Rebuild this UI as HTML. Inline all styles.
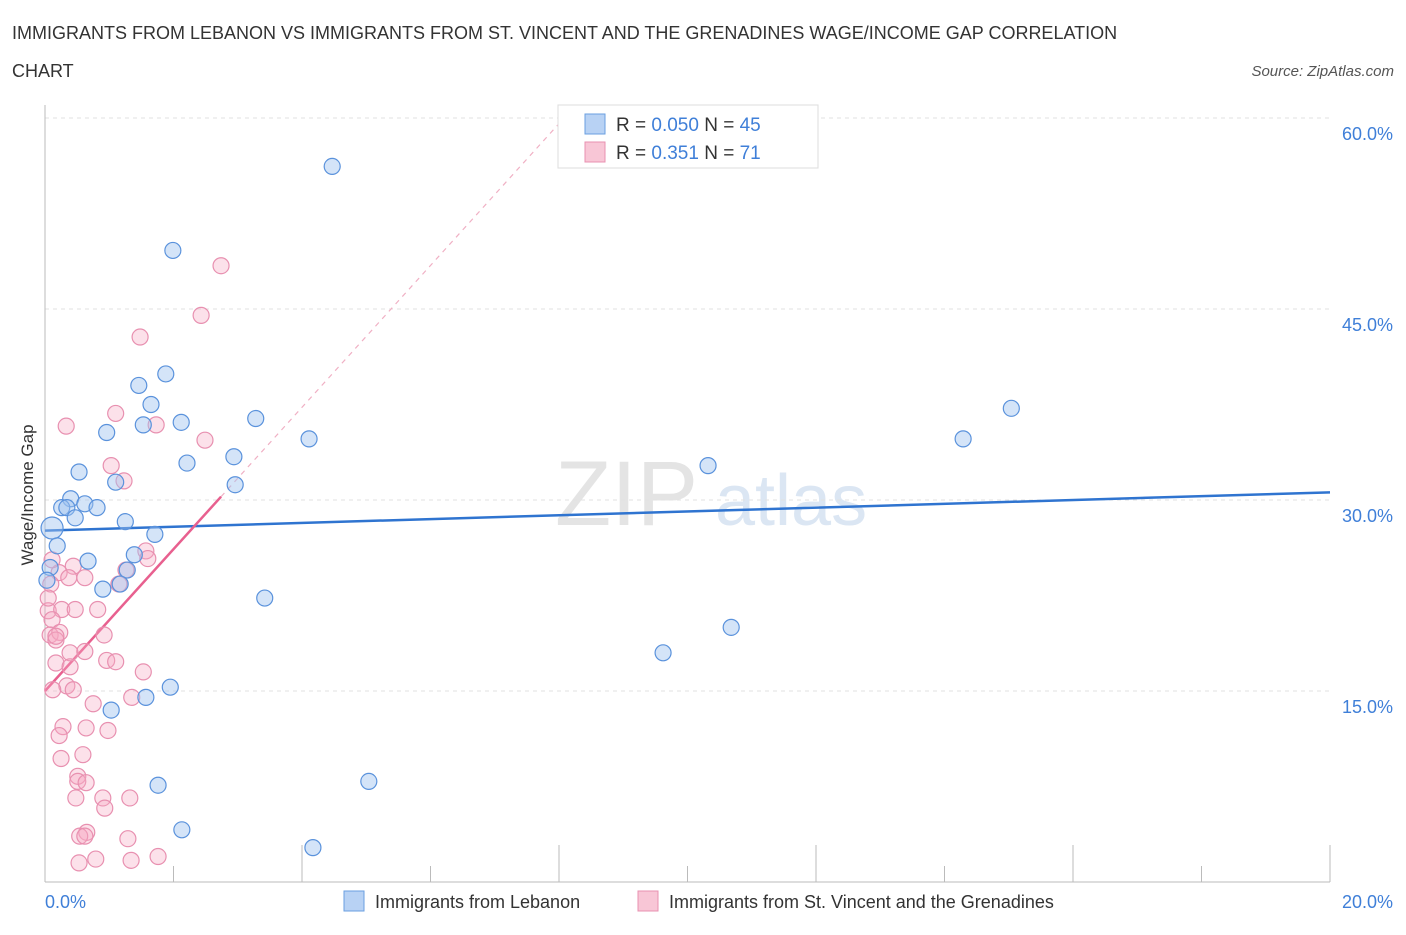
<!DOCTYPE html>
<html><head><meta charset="utf-8"><style>
body{margin:0;background:#fff;font-family:"Liberation Sans",sans-serif;}
svg text{font-family:"Liberation Sans",sans-serif;}
</style></head><body>
<svg id="chart" width="1406" height="930" viewBox="0 0 1406 930" xmlns="http://www.w3.org/2000/svg">
<text x="12" y="39" font-size="18" fill="#333">IMMIGRANTS FROM LEBANON VS IMMIGRANTS FROM ST. VINCENT AND THE GRENADINES WAGE/INCOME GAP CORRELATION</text>
<text x="12" y="77" font-size="18" fill="#333">CHART</text>
<text x="1394" y="76" font-size="15" fill="#555" text-anchor="end" font-style="italic">Source: ZipAtlas.com</text>
<text x="555" y="525" font-size="92" fill="#e4e4e4" font-family="Liberation Serif">ZIP</text>
<text x="715" y="525" font-size="72" fill="#dbe6f3">atlas</text>
<g id="grid"></g>
<g id="axes"></g>
<g id="lines"></g>
<g id="points"></g>
<text transform="translate(33,495) rotate(-90)" font-size="17" fill="#333" text-anchor="middle">Wage/Income Gap</text>
<text x="45" y="908" font-size="18" fill="#3f7fd8">0.0%</text>
<text x="1393" y="908" font-size="18" fill="#3f7fd8" text-anchor="end">20.0%</text>
<g>
<rect x="558" y="105" width="260" height="63" fill="#fff" stroke="#ddd"/>
<rect x="585" y="114" width="20" height="20" fill="#b8d2f4" stroke="#6a9fe0"/>
<rect x="585" y="142" width="20" height="20" fill="#f8c6d6" stroke="#e890b0"/>
<text x="616" y="131" font-size="19" fill="#333">R = <tspan fill="#3f7fd8">0.050</tspan>   N = <tspan fill="#3f7fd8">45</tspan></text>
<text x="616" y="159" font-size="19" fill="#333">R =  <tspan fill="#3f7fd8">0.351</tspan>   N =  <tspan fill="#3f7fd8">71</tspan></text>
</g>
<g>
<rect x="344" y="891" width="20" height="20" fill="#b8d2f4" stroke="#6a9fe0"/>
<text x="375" y="908" font-size="18" fill="#333">Immigrants from Lebanon</text>
<rect x="638" y="891" width="20" height="20" fill="#f8c6d6" stroke="#e890b0"/>
<text x="669" y="908" font-size="18" fill="#333">Immigrants from St. Vincent and the Grenadines</text>
</g>
</svg>
<script>
const yTicks=[15,30,45,60];
const yTickLabels=["15.0%","30.0%","45.0%","60.0%"];
const xTicks=[0,2,4,6,8,10,12,14,16,18,20];
const blueX=[4.47,1.99,1.88,1.46,1.65,3.28,2.12,1.53,0.96,4.11,2.21,2.94,0.53,1.10,2.96,0.40,0.26,0.62,0.81,0.34,0.47,1.25,1.71,0.11,0.19,1.39,0.67,1.28,1.17,0.90,3.42,0.08,0.03,1.95,1.57,1.03,1.76,5.04,2.13,4.17,10.32,9.62,10.68,14.29,15.04];
const blueY=[56.2,49.6,39.9,39.0,37.5,36.4,36.1,35.9,35.3,34.8,32.9,33.4,32.2,31.4,31.2,30.1,29.4,29.7,29.4,29.4,28.6,28.3,27.3,27.8,26.4,25.7,25.2,24.5,23.4,23.0,22.3,24.7,23.7,15.3,14.5,13.5,7.6,7.9,4.1,2.7,32.7,18.0,20.0,34.8,37.2];
const pinkX=[2.74,2.43,1.48,1.10,0.33,1.73,2.49,1.03,1.23,1.57,1.60,1.26,0.44,0.62,0.22,0.37,1.15,0.09,0.05,0.26,0.47,0.82,0.11,0.08,0.23,0.17,0.92,0.39,0.17,0.39,0.96,1.10,1.53,0.34,0.44,0.12,0.75,1.35,0.28,0.64,0.98,0.22,0.59,0.25,0.51,0.51,0.64,0.48,0.90,1.32,0.93,0.65,0.54,0.62,1.29,1.34,1.76,0.53,0.79,0.11,0.05,0.17,0.62];
const pinkY=[48.4,44.5,42.8,36.8,35.8,35.9,34.7,32.7,31.5,26.0,25.4,24.5,24.8,23.9,24.3,23.9,23.4,23.4,21.3,21.4,21.4,21.4,20.6,19.4,19.6,19.0,19.4,18.0,17.2,16.9,17.4,17.3,16.5,15.4,15.1,15.1,14.0,14.5,12.2,12.1,11.9,11.5,10.0,9.7,8.3,7.9,7.8,6.6,6.6,6.6,5.8,3.9,3.6,3.6,3.4,1.7,2.0,1.5,1.8,25.3,22.3,19.3,18.1];
const blueTrend=[27.6,30.6];
const pinkTrend=[15.0,5.57];
const NS="http://www.w3.org/2000/svg";
const X0=45,X1=1330,Y0=882,PXY=12.733;
const xs=v=>X0+(X1-X0)*v/20, ys=v=>Y0-v*PXY;
function mk(tag,attrs,parent){const e=document.createElementNS(NS,tag);for(const k in attrs)e.setAttribute(k,attrs[k]);document.getElementById(parent).appendChild(e);return e;}
yTicks.forEach((t,i)=>{
 const g=mk('line',{x1:X0,x2:X1,y1:ys(t),y2:ys(t),stroke:'#e2e2e2','stroke-dasharray':'4,4'},'grid');
 
 
 const l=mk('text',{x:1393,y:ys(t)+22,'font-size':18,fill:'#3f7fd8','text-anchor':'end'},'grid');
 l.textContent=yTickLabels[i];
 
 
});
const ax=mk('line',{x1:X0,x2:X0,y1:105,y2:Y0,stroke:'#bbb'},'axes');


const bx=mk('line',{x1:X0,x2:X1,y1:Y0,y2:Y0,stroke:'#bbb'},'axes');


xTicks.forEach(t=>{
 const k=mk('line',{x1:xs(t),x2:xs(t),y1:Y0,y2:t%4===0?845:866,stroke:'#bbb'},'axes');
 
 
});
const bl=mk('line',{x1:xs(0),y1:ys(blueTrend[0]),x2:xs(20),y2:ys(blueTrend[1]),stroke:'#2f74d0','stroke-width':2.5},'lines');


const pMax=Math.max(...pinkX);
const pd=mk('line',{x1:xs(pMax),y1:ys(pinkTrend[0]+pinkTrend[1]*pMax),x2:xs(8),y2:ys(pinkTrend[0]+pinkTrend[1]*8),stroke:'#f0b0c4','stroke-width':1.2,'stroke-dasharray':'5,5'},'lines');


const pl=mk('line',{x1:xs(0),y1:ys(pinkTrend[0]),x2:xs(pMax),y2:ys(pinkTrend[0]+pinkTrend[1]*pMax),stroke:'#e8608f','stroke-width':2.5},'lines');


pinkX.forEach((x,i)=>{
 const c=mk('circle',{cx:xs(x),cy:ys(pinkY[i]),r:8,fill:'rgba(245,170,195,0.35)',stroke:'#e890b0','stroke-width':1.2},'points');
 
 
});
blueX.forEach((x,i)=>{
 const c=mk('circle',{cx:xs(x),cy:ys(blueY[i]),r:i===23?11:8,fill:'rgba(160,196,240,0.45)',stroke:'#5a92dc','stroke-width':1.2},'points');
 
 
});
</script>
</body></html>
